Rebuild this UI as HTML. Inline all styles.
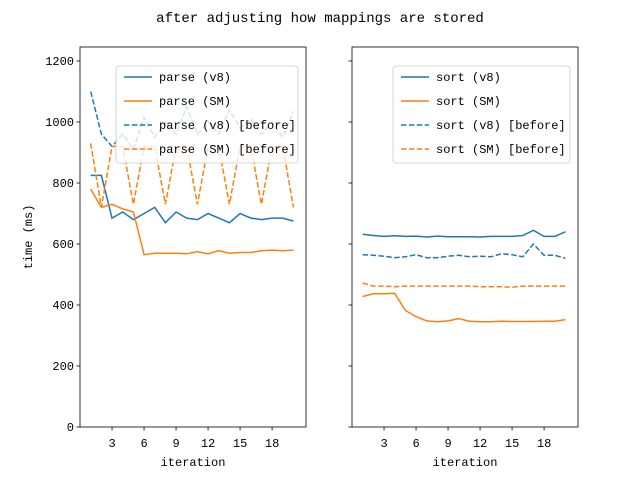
<!DOCTYPE html>
<html><head><meta charset="utf-8"><style>
body{margin:0;background:#fff}
svg{font-family:"Liberation Mono",monospace}
</style></head><body>
<svg id="c" width="640" height="480" xmlns="http://www.w3.org/2000/svg">
<rect width="640" height="480" fill="#fff"/>
<text x="320" y="22" font-size="14" text-anchor="middle">after adjusting how mappings are stored</text>
</svg>
<script>
const iterations=[1,2,3,4,5,6,7,8,9,10,11,12,13,14,15,16,17,18,19,20];
const xTicks=[3,6,9,12,15,18];
const yTicks=[0,200,400,600,800,1000,1200];
const parseV8=[825,825,685,705,680,700,720,670,705,685,680,700,685,670,700,685,680,685,685,675];
const parseSM=[780,720,730,715,705,565,570,570,570,568,575,568,578,570,572,572,578,580,578,580];
const parseV8Before=[1100,960,920,960,910,1015,950,1000,960,1050,960,1000,960,1040,980,1010,960,1000,950,1035];
const parseSMBefore=[930,720,920,920,730,920,920,730,920,920,730,920,920,730,920,920,730,920,920,720];
const sortV8=[632,628,625,627,625,626,623,626,624,624,624,623,625,625,625,628,645,625,625,640];
const sortSM=[428,437,437,438,382,362,348,345,348,355,347,345,345,347,346,346,346,347,347,352];
const sortV8Before=[565,563,560,555,558,565,555,555,560,563,558,560,558,568,565,558,600,563,563,553];
const sortSMBefore=[472,462,462,460,462,462,462,462,462,462,462,460,460,460,458,462,462,462,462,462];
const NS="http://www.w3.org/2000/svg",svg=document.getElementById('c');
function el(t,a,txt){const e=document.createElementNS(NS,t);for(const k in a)e.setAttribute(k,a[k]);if(txt!=null)e.textContent=txt;svg.appendChild(e);return e;}
const yTop=47,yBot=427;
const y=v=>427-v*0.305;
const DASH='5.5,2.4';
const panels=[
 {x0:80,x1:306,lab:'parse',series:[[parseV8,'#1f77b4',''],[parseSM,'#ff7f0e',''],[parseV8Before,'#1f77b4',DASH],[parseSMBefore,'#ff7f0e',DASH]],names:['parse (v8)','parse (SM)','parse (v8) [before]','parse (SM) [before]'],lx:116,lw:182},
 {x0:352,x1:578,lab:'sort',series:[[sortV8,'#1f77b4',''],[sortSM,'#ff7f0e',''],[sortV8Before,'#1f77b4',DASH],[sortSMBefore,'#ff7f0e',DASH]],names:['sort (v8)','sort (SM)','sort (v8) [before]','sort (SM) [before]'],lx:393,lw:177}
];
panels.forEach((p,pi)=>{
 const x=i=>p.x0+10.7+(i-1)*10.67;
 p.series.forEach((s,si)=>{
  const d=s[0].map((v,i)=>(i?'L':'M')+x(iterations[i]).toFixed(1)+','+y(v).toFixed(1)).join('');
  const e=el('path',{d:d,fill:'none',stroke:s[1],'stroke-width':1.5,'stroke-dasharray':s[2]||'none'});
  
  
 });
 const fr=el('rect',{x:p.x0,y:yTop,width:p.x1-p.x0,height:yBot-yTop,fill:'none',stroke:'#000','stroke-width':0.8});
 
 
 xTicks.forEach(t=>{
  el('line',{x1:x(t),x2:x(t),y1:yBot,y2:yBot+3.5,stroke:'#000','stroke-width':0.8});
  const tx=el('text',{x:x(t),y:yBot+20,'font-size':12,'text-anchor':'middle'},String(t));
  
  
 });
 yTicks.forEach(t=>{
  el('line',{x1:p.x0-3.5,x2:p.x0,y1:y(t),y2:y(t),stroke:'#000','stroke-width':0.8});
  if(pi==0){const tx=el('text',{x:p.x0-6,y:y(t)+4,'font-size':12,'text-anchor':'end'},String(t));
  
  }
 });
 const xl=el('text',{x:(p.x0+p.x1)/2,y:466,'font-size':12,'text-anchor':'middle'},'iteration');
 
 
 const lg=el('rect',{x:p.lx,y:66,width:p.lw,height:97,rx:3,fill:'#fff','fill-opacity':0.8,stroke:'#ccc','stroke-width':0.8});
 
 
 p.names.forEach((n,i)=>{
  const yy=77+i*24,s=p.series[i];
  el('line',{x1:p.lx+8,x2:p.lx+36,y1:yy,y2:yy,stroke:s[1],'stroke-width':1.5,'stroke-dasharray':s[2]||'none'});
  const t=el('text',{x:p.lx+43,y:yy+4,'font-size':12},n);
  
  
 });
});
const yl=el('text',{x:0,y:0,'font-size':12,'text-anchor':'middle',transform:'translate(32,237) rotate(-90)'},'time (ms)');


</script>
</body></html>
